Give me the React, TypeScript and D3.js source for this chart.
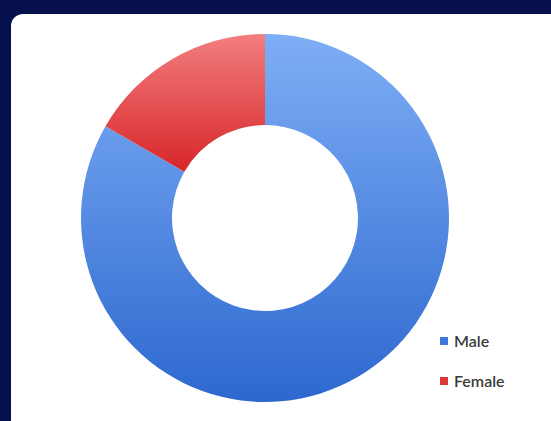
import React from "react";
import * as d3 from "d3";

const categories = ["Male", "Female"];
const values = [83.3, 16.7];
const topColors = ["#7eaef5", "#f27e7e"];
const bottomColors = ["#2d68cf", "#d7262a"];

export default function App() {
  const W = 551, H = 421;
  const cx = 265, cy = 218, rOuter = 184, rInner = 93;
  const pie = d3.pie<number>().sort(null).value((d) => d)(values);
  const arc = d3.arc<d3.PieArcDatum<number>>().innerRadius(rInner).outerRadius(rOuter);
  return (
    <svg width={W} height={H} style={{ position: "absolute", left: 0, top: 0 }}>
      <defs>
        {categories.map((c, i) => (
          <linearGradient key={c} id={`g${i}`} x1="0" y1="0" x2="0" y2="1">
            <stop offset="0%" stopColor={topColors[i]} />
            <stop offset="100%" stopColor={bottomColors[i]} />
          </linearGradient>
        ))}
      </defs>
      <rect x={0} y={0} width={W} height={H} fill="#05104d" />
      <rect x={11} y={14} width={W + 20} height={H + 20} rx={12} ry={12} fill="#ffffff" />
      <g transform={`translate(${cx},${cy})`}>
        {pie.map((p, i) => (
          <path key={i} d={arc(p) || ""} fill={`url(#g${i})`} />
        ))}
      </g>
      {categories.map((c, i) => (
        <g key={c} transform={`translate(440,${341 + i * 40})`}>
          <rect x={0} y={-4} width={8} height={8} fill={i === 0 ? "#3c78dc" : "#dc3a3a"} />
          <text x={14} y={6} fontFamily="Lato, 'Open Sans', sans-serif" fontSize={16} fontWeight={600} fill="#3a3a3a">
            {c}
          </text>
        </g>
      ))}
    </svg>
  );
}
